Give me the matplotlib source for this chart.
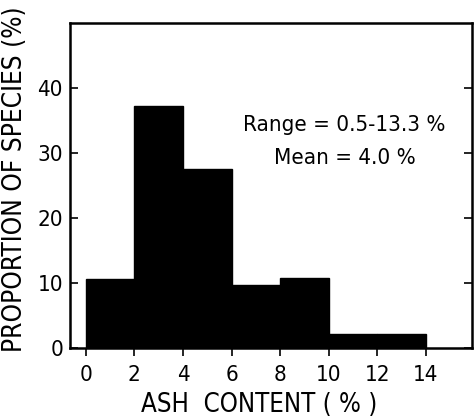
import matplotlib.pyplot as plt

# histogram of ash content
bin_edges = [0, 2, 4, 6, 8, 10, 12, 14]
proportions = [10.6, 37.3, 27.6, 9.7, 10.7, 2.2, 2.2]
x_ticks = [0, 2, 4, 6, 8, 10, 12, 14]
y_ticks = [0, 10, 20, 30, 40]

plt.rcParams['font.family'] = ['DejaVu Sans']
plt.rcParams['font.stretch'] = 'condensed'

fig = plt.figure(figsize=(4.74, 4.19), dpi=100)
ax = fig.add_axes([70 / 474, 1 - 348 / 419, 402 / 474, 325 / 419])

widths = [b - a for a, b in zip(bin_edges[:-1], bin_edges[1:])]
ax.bar(bin_edges[:-1], proportions, width=widths, align='edge',
       color='black', edgecolor='black', linewidth=1)

ax.set_xlim(-0.65, 15.9)
ax.set_ylim(0, 50)
ax.set_xticks(x_ticks)
ax.set_yticks(y_ticks)
ax.tick_params(axis='x', direction='out', length=6, width=1.2, labelsize=16, pad=6)
ax.tick_params(axis='y', direction='in', length=6, width=1.2, labelsize=16,
               right=True, pad=5)
for s in ax.spines.values():
    s.set_linewidth(1.8)

ax.set_xlabel("ASH  CONTENT ( % )", fontsize=18.5)
ax.set_ylabel("PROPORTION OF SPECIES (%)", fontsize=18.8)
ax.xaxis.set_label_coords(0.47, -0.135)
ax.yaxis.set_label_coords(-0.104, 0.52)

ax.text(10.65, 34.3, "Range = 0.5-13.3 %", fontsize=16, ha='center', va='center')
ax.text(10.65, 29.3, "Mean = 4.0 %", fontsize=16, ha='center', va='center')

fig.savefig("out.png", dpi=100)
